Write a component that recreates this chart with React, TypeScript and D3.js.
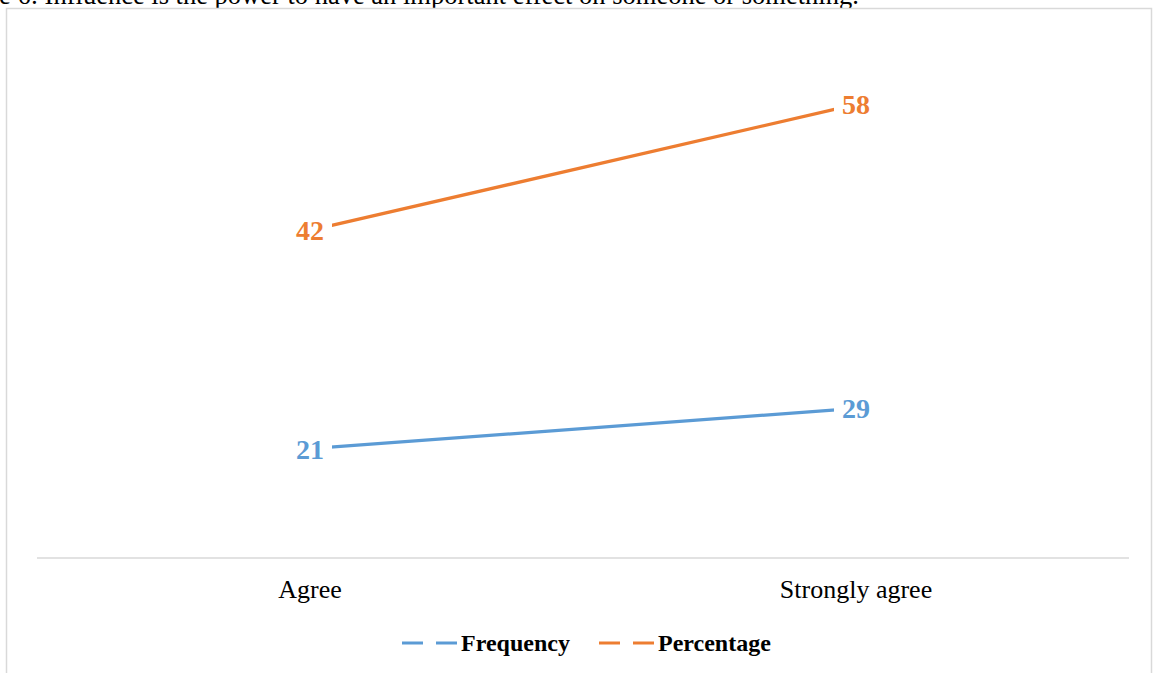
import React from "react";
import * as d3 from "d3";

const categories: string[] = ["Agree", "Strongly agree"];
const frequency: number[] = [21, 29];
const percentage: number[] = [42, 58];
const seriesNames: string[] = ["Frequency", "Percentage"];
const captionText = "e 6: Influence is the power to have an important effect on someone or something.";

const W = 1153;
const H = 673;
const FONT = "'Liberation Serif', 'Times New Roman', serif";
const BLUE = "#5B9BD5";
const ORANGE = "#ED7D31";

export default function App() {
  const x = d3.scaleBand<string>().domain(categories).range([37, 1129]);
  const cx = (c: string) => (x(c) as number) + x.bandwidth() / 2;
  const yFreq = d3.scaleLinear().domain([0, 100]).range([554.5, 50.5]);
  const yPct = d3.scaleLinear().domain([0, 70]).range([561, 10]);

  const series = [
    { name: seriesNames[0], values: frequency, y: yFreq, color: BLUE },
    { name: seriesNames[1], values: percentage, y: yPct, color: ORANGE },
  ];

  const line = (vals: number[], y: d3.ScaleLinear<number, number>) =>
    d3
      .line<number>()
      .x((_, i) => cx(categories[i]))
      .y((d) => y(d))(vals) as string;

  const legendItems = [
    { name: seriesNames[0], color: BLUE, x: 402 },
    { name: seriesNames[1], color: ORANGE, x: 599 },
  ];

  return (
    <svg
      width={W}
      height={H}
      style={{ position: "absolute", left: 0, top: 0, background: "#fff" }}
    >
      <text x={-1} y={4} fontFamily={FONT} fontSize={26.5} fill="#000">
        {captionText}
      </text>
      <rect x={6.5} y={8.5} width={1145} height={700} fill="#fff" stroke="#d9d9d9" strokeWidth={1.5} />
      <line x1={37} x2={1129} y1={558} y2={558} stroke="#d9d9d9" strokeWidth={1.5} />
      {categories.map((c) => (
        <text key={c} x={cx(c)} y={598} textAnchor="middle" fontFamily={FONT} fontSize={26} fill="#000">
          {c}
        </text>
      ))}
      {series.map((s) => (
        <path key={s.name} d={line(s.values, s.y)} fill="none" stroke={s.color} strokeWidth={3.25} />
      ))}
      {series.map((s) =>
        s.values.map((v, i) => {
          const px = cx(categories[i]);
          const py = s.y(v);
          return (
            <g key={s.name + i}>
              <rect x={px - 22} y={py - 14} width={44} height={26} fill="#fff" />
              <text
                x={px}
                y={py + 10}
                textAnchor="middle"
                fontFamily={FONT}
                fontWeight="bold"
                fontSize={28}
                fill={s.color}
              >
                {v}
              </text>
            </g>
          );
        })
      )}
      {legendItems.map((l) => (
        <g key={l.name}>
          <line x1={l.x} x2={l.x + 21} y1={643} y2={643} stroke={l.color} strokeWidth={3} />
          <line x1={l.x + 34} x2={l.x + 55} y1={643} y2={643} stroke={l.color} strokeWidth={3} />
          <text x={l.x + 59} y={651} fontFamily={FONT} fontWeight="bold" fontSize={24} fill="#000">
            {l.name}
          </text>
        </g>
      ))}
    </svg>
  );
}
